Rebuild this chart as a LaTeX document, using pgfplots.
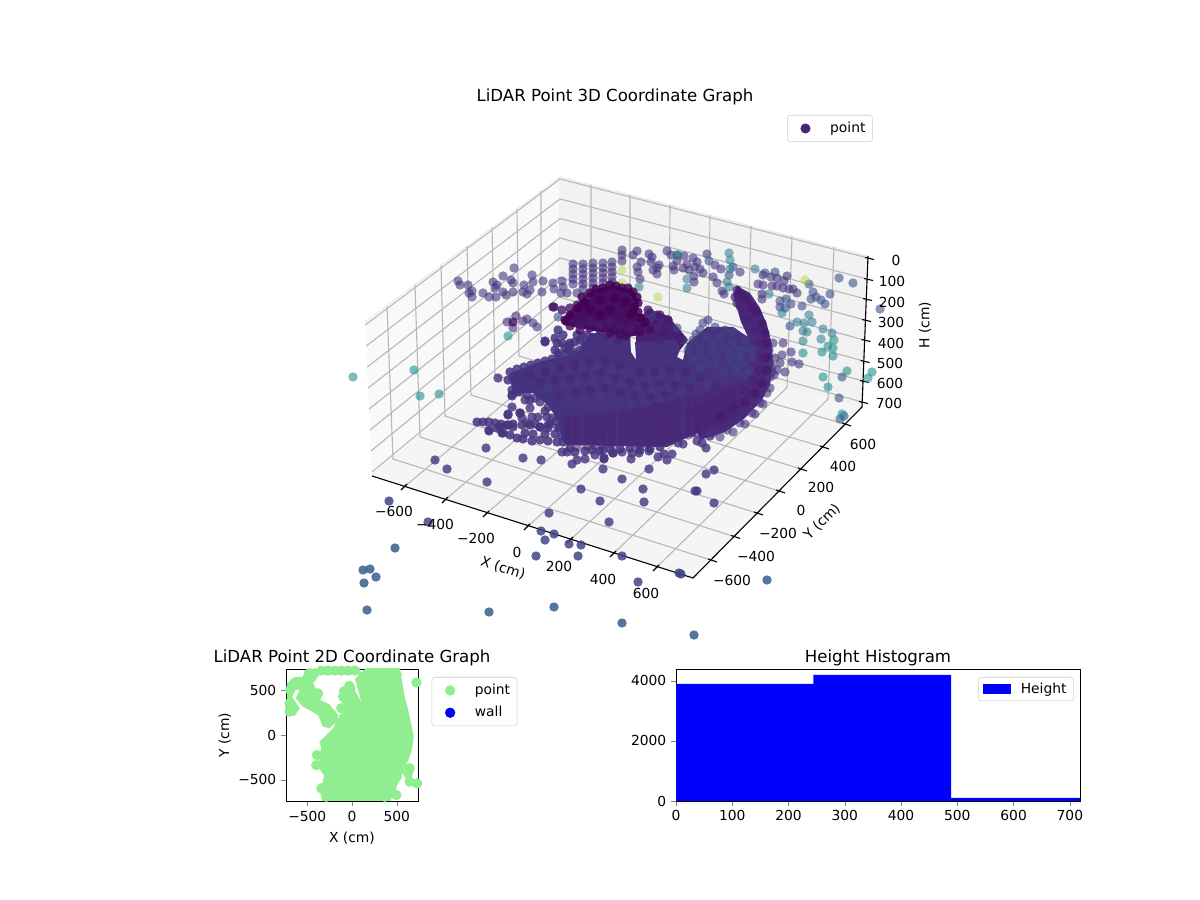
\documentclass[border=0pt]{standalone}
\usepackage{pgfplots}
\pgfplotsset{compat=1.18}
\usepackage{fontspec}
\setmainfont{DejaVu Sans}
\definecolor{v00}{HTML}{440154}
\definecolor{v03}{HTML}{460B5E}
\definecolor{v07}{HTML}{471A6C}
\definecolor{v10}{HTML}{482475}
\definecolor{v15}{HTML}{463480}
\definecolor{v20}{HTML}{414487}
\definecolor{v25}{HTML}{3B528B}
\definecolor{v30}{HTML}{355F8D}
\definecolor{v40}{HTML}{2A788E}
\definecolor{v50}{HTML}{21918C}
\definecolor{v85}{HTML}{A5DB36}
\definecolor{massc}{HTML}{48327D}
\definecolor{domec}{HTML}{470F60}
\definecolor{cresc}{HTML}{4A2A79}
\definecolor{midc}{HTML}{47206F}
\definecolor{lg}{HTML}{90EE90}
\definecolor{gridc}{gray}{0.72}
\pgfplotsset{lgpt/.style={legend image code/.code={\path (-0.35cm,0cm) (0.55cm,0cm);\draw[##1] plot coordinates {(0cm,0cm)};}}}
\newcommand{\pts}[3]{\addplot[forget plot,color=#1,only marks,mark=*,mark size=3.4,mark options={solid,fill=#1,fill opacity=#2,draw opacity=0}] coordinates {#3};}
\newcommand{\gl}[1]{\addplot[forget plot,gridc,line width=0.8pt,no marks] coordinates {#1};}
\newcommand{\tk}[1]{\addplot[forget plot,black,line width=0.8pt,no marks] coordinates {#1};}
\newcommand{\ptxt}[2]{\node[font=\fontsize{10}{12}\selectfont] at (axis cs:#1) {#2};}
\begin{document}
\begin{tikzpicture}
\path[use as bounding box] (0,0) rectangle (864bp,648bp);
% ---------- 3D panel, in picture coordinates
\begin{axis}[at={(253.44bp,190.8bp)},anchor=south west,scale only axis,width=380.16bp,height=373.68bp,
 xmin=352,xmax=880,ymin=116,ymax=635,y dir=reverse,hide axis,clip=true,
 legend style={at={(axis cs:787,115)},anchor=north west,draw=black!20,rounded corners=2pt,font=\fontsize{10}{12}\selectfont,inner xsep=3pt,inner ysep=3pt,legend cell align=left}]
\addlegendimage{only marks,mark=*,mark size=3.4,color=v10,lgpt}
\addlegendentry{point}
\addplot[forget plot,fill=black!2.5,draw=black!7,line width=.8pt] coordinates {(365,322)(560,177)(559,322)(372,476)};
\addplot[forget plot,fill=black!5,draw=black!8,line width=.8pt] coordinates {(560,177)(868,256)(862,407)(559,322)};
\addplot[forget plot,fill=black!4,draw=black!4] coordinates {(372,476)(559,322)(862,407)(693,578)};
% grid
\gl{(591,185)(591,331)(404,487)}\gl{(630,195)(630,342)(445,500)}\gl{(670,205)(669,354)(486,514)}\gl{(710,215.5)(708,365)(527,527)}\gl{(751,226)(747,376)(570,540)}\gl{(792,236.5)(787,387.5)(613,554)}\gl{(834,247)(828,399)(656,568)}
\gl{(387,306)(393,459)(711,560)}\gl{(415,285)(420,437)(734,536.5)}\gl{(441,265.5)(445,416)(757,513)}\gl{(467,246)(471,395)(779,491)}\gl{(492,227.5)(495,375)(801,469)}\gl{(517,209)(519,356)(823,447)}\gl{(541,191)(541,338)(845,424)}
\gl{(365.2,325)(560,179)(868,258)}\gl{(366.2,346)(560,199)(867,279)}\gl{(367.2,367)(560,218.5)(866,299)}\gl{(368.1,388)(560,238)(865,320)}\gl{(369.1,409)(560,258)(864.5,340)}\gl{(370,430)(559,277.5)(863.5,361)}\gl{(371,451)(559,297)(863,381)}\gl{(372,472)(559,317)(862,402)}
% axis lines and ticks
\tk{(372,476)(693,578)(862,407)(868,256)}
\tk{(401,490)(407,484)}\tk{(442,503)(448,497)}\tk{(483,517)(489,511)}\tk{(524,530)(530,524)}\tk{(567,543)(573,537)}\tk{(610,557)(616,551)}\tk{(653,571)(659,565)}
\tk{(708,559)(717,562)}\tk{(731,535.5)(740,538.5)}\tk{(754,512)(763,515)}\tk{(776,490)(785,493)}\tk{(798,468)(807,471)}\tk{(820,446)(829,449)}\tk{(842,423)(851,426)}
\tk{(865,257.5)(874,259.5)}\tk{(864,278.5)(873,280.5)}\tk{(863,298.5)(872,300.5)}\tk{(862,319.5)(871,321.5)}\tk{(861.5,339.5)(870.5,341.5)}\tk{(860.5,360.5)(869.5,362.5)}\tk{(860,380.5)(869,382.5)}\tk{(859,401.5)(868,403.5)}
% back wall points
\pts{v15}{.6}{(458,281)(460,285)(468,285)(472,291)(472,297)(469,293)(483,293)(489,297)(496,297)(493,282)(497,285)(495,288)(503,276)(514,268)(511,280)(513,283)(503,292)(506,295)(513,292)(524,285)(523,292)(527,294)(532,275)(533,282)(530,290)(543,281)(542,292)(553,283)(554,289)(562,281)(563,287)(561,293)(567,293)(577,293)(587,296)
(573,264)(573,269)(573,274)(573,279)(573,284)(583,264)(583,269)(583,274)(583,279)(583,284)(583,289)(593,263)(593,268)(593,273)(593,278)(593,283)(593,288)(603,263)(603,268)(603,273)(603,278)(603,283)(612,262)(612,267)(612,272)(612,277)(612,282)
(507,322)(516,316)(513,328)(523,321)(527,319)(533,323)(537,327)(622,250)(622,255)(622,261)(633,255)(637,251)(649,254)(652,257)(641,262)(651,262)(659,265)(657,268)(637,267)(638,272)(640,279)(653,270)(657,274)(667,251)(671,255)(673,266)(674,270)(683,268)(677,261)(684,256)(687,264)(693,258)(697,262)(695,267)(689,270)(694,276)(694,282)(700,269)(703,273)(707,254)(715,265)(713,277)(717,283)(722,291)(724,294)(721,269)(740,272)(763,275)(771,277)(777,278)(787,276)(784,281)(758,284)(763,285)(772,286)(777,286)(783,288)(789,289)(793,289)(797,293)(762,294)(762,299)(773,343)(783,343)(782,355)(791,352)(780,363)(792,362)(799,364)(785,372)(772,372)(777,370)}
\pts{v00}{.75}{(513,322)(553,307)}
\pts{v25}{.6}{(558,317)(677,255)(709,261)(729,275)(733,267)(765,273)(775,272)(809,284)(813,292)(811,299)(816,297)(821,300)(825,304)(830,294)(839,278)(853,283)(786,299)(780,301)(791,304)(780,307)(785,308)(802,306)(790,326)(842,377)(839,398)(844,416)(840,419)(880,309)}
\pts{v40}{.55}{(639,287)(678,255)(687,279)(687,288)(729,253)(730,260)(730,269)(727,282)(729,287)(755,269)(769,294)(782,313)(809,315)(797,322)(804,323)(812,322)(803,331)(807,332)(823,329)(832,333)(803,341)(821,339)}
\pts{v50}{.6}{(508,336)(353,377)(414,370)(420,396)(439,394)(834,340)(828,346)(833,348)(822,352)(833,356)(803,353)(847,371)(872,372)(868,378)(823,377)(828,387)(842,414)}
\pts{v85}{.45}{(622,283)(622,270)(658,297)(805,280)}
% scattered floor points
\pts{v15}{.8}{(498,378)(486,448)(523,458)(541,460)(435,460)(447,469)(487,482)(572,464)(577,460)(585,459)(603,469)(604,458)(581,489)(600,501)(549,513)(609,522)(622,479)(649,469)(643,489)(644,502)(631,459)(639,453)(632,453)(649,451)(658,457)(667,460)(664,454)(672,454)(604,459)(613,453)(622,452)(683,444)(678,443)(697,441)(706,448)(702,443)(710,436)(692,433)(695,491)(697,491)(706,474)(714,470)(714,503)(562,452)(567,452)(595,455)(603,450)(613,453)
(512,396)(517,392)(525,400)(530,408)(512,395)(520,392)(527,395)(535,398)(512,407)(548,407)(555,408)(508,414)(520,413)(522,418)(532,417)(538,417)(547,417)(552,418)(560,417)(527,423)(535,424)(540,427)(548,425)(560,427)(489,430)(500,427)(560,400)(540,402)(563,407)}
\pts{v20}{.85}{(541,531)(554,534)(545,540)(569,544)(581,545)(536,556)(578,556)(622,556)(638,582)(681,574)(679,573)(389,501)(428,522)}
\pts{v30}{.85}{(395,548)(363,570)(370,569)(376,577)(364,583)(367,610)(489,612)(554,607)(622,623)(676,636)(694,635)(767,580)}
% lower-left edge and tail of the mass
\pts{v15}{.85}{(477,422)(483,422)(489,422)(495,423)(501,424)(507,425)(513,427)(503,433)(510,435)(517,438)(523,439)(532,441)(540,440)(548,441)(557,442)(563,442)(489,431)(497,428)(502,433)(508,425)(513,424)(522,425)(530,425)(540,427)(548,428)(508,415)(520,413)(525,433)(533,434)(545,434)(555,434)(550,424)(556,421)(545,411)(552,403)(540,395)(530,400)(558,428)(562,436)(558,413)(564,405)(562,395)(553,390)(543,388)(570,448)(575,452)(585,451)(592,450)(600,451)(610,449)(620,449)(630,448)(640,450)(650,449)(660,447)}
% body of the mass
\addplot[forget plot,fill=midc,draw=none] coordinates {(636,318)(650,310)(668,316)(680,330)(688,340)(680,350)(636,345)};
\addplot[forget plot,fill=massc,draw=none] coordinates {(510,373)(540,362)(577,353)(590,333)(630,335)(631,352)(636,360)(635,342)(677,340)(680,350)(677,357)(683,360)(687,343)(707,327)(733,327)(757,343)(762,353)(763,380)(750,410)(723,427)(697,433)(667,447)(567,445)(562,440)(558,420)(548,405)(533,393)(513,393)};
\pts{v15}{.85}{(510,372)(517,369)(524,367)(531,365)(538,363)(545,361)(552,359)(559,356)(566,354)(573,352)(580,350)(513,378)(520,376)(508,380)(515,383)(512,390)(525,375)(535,385)(548,396)(556,404)(563,410)
(545,342)(555,338)(558,330)(563,335)(562,343)(570,343)(555,350)(558,353)(565,348)(577,335)(587,335)(597,337)(603,340)(620,337)(582,337)(573,355)(570,345)(557,343)(545,341)(650,313)(657,315)(662,320)(668,320)(645,320)(650,320)(657,328)(575,342)(585,345)(568,350)(580,340)(590,342)(600,345)(612,345)(622,347)(650,350)(660,345)(670,345)(665,352)(655,345)(672,352)(642,352)}
\pts{v10}{.7}{(640,320)(650,327)(660,325)(668,328)(675,335)(650,335)(660,340)(645,332)(655,330)(665,336)(618,341)(606,336)}
\pts{v20}{.6}{(703,323)(708,320)(715,327)(725,330)(733,332)(707,337)(700,347)(693,340)(683,340)(688,350)(713,343)(723,347)(733,343)(743,350)(717,357)(730,360)(743,363)(753,357)(707,363)(693,360)(723,373)(737,373)(750,370)(740,350)(677,328)(700,330)(696,334)(720,337)(745,340)(752,350)(700,356)(712,350)(728,352)(738,357)(715,365)(700,368)(735,367)(745,375)}
\pts{v07}{.3}{(530,375)(545,372)(560,368)(575,365)(590,362)(605,360)(620,365)(640,372)(655,372)(670,370)(685,372)(700,378)(715,385)(540,382)(555,380)(570,378)(585,375)(600,372)(615,378)(630,382)(645,385)(660,383)(675,385)(690,388)(560,395)(575,392)(590,390)(605,388)(620,392)(635,395)(650,396)(665,394)}
\pts{v20}{.3}{(537,369)(552,366)(567,372)(582,369)(597,366)(612,370)(627,372)(647,378)(662,377)(677,378)(692,380)(707,384)(548,388)(563,386)(578,384)(593,382)(608,381)(622,385)(637,388)(652,390)(667,388)(682,392)(570,402)(585,400)(600,398)(615,400)(630,403)(645,402)(660,400)}
% dome
\addplot[forget plot,fill=domec,draw=none] coordinates {(562,320)(577,303)(593,290)(613,285)(633,290)(639,303)(637,313)(667,323)(660,330)(640,335)(627,337)(590,330)(563,325)};
\pts{v03}{.8}{(600,330)(610,333)(620,335)(626,336)(590,328)(580,330)(640,332)(650,330)(570,326)}
\pts{v07}{.8}{(580,325)(590,322)(600,325)(610,322)(620,325)(630,328)(648,310)(660,315)(668,320)(663,333)(680,338)(554,307)(562,310)(570,308)(577,305)}
\pts{v00}{.85}{(565,320)(570,315)(578,308)(585,303)(582,297)(590,293)(596,289)(603,288)(610,285)(616,286)(622,288)(628,288)(633,292)(637,297)(638,303)(634,308)(638,312)(630,315)(640,318)(645,322)(600,315)(610,310)(590,310)(600,300)(615,298)(625,302)}
% crescent
\addplot[forget plot,fill=cresc,draw=none] coordinates {(737,286)(750,293)(760,308)(767,325)(772,345)(773,365)(770,385)(762,400)(745,418)(725,432)(700,440)(690,410)(715,398)(735,385)(748,370)(755,350)(748,337)(741,322)(736,305)(733,295)};
% front columns
\pts{v10}{.55}{(568,420)(568,427)(568,434)(568,441)(577,419)(577,426)(577,433)(577,440)(577,447)(587,418)(587,425)(587,432)(587,439)(587,446)(595,418)(595,425)(595,432)(595,439)(595,446)(603,417)(603,424)(603,431)(603,438)(603,445)(612,416)(612,423)(612,430)(612,437)(612,444)(622,414)(622,421)(622,428)(622,435)(622,442)(630,413)(630,420)(630,427)(630,434)(630,441)(638,411)(638,418)(638,425)(638,432)(638,439)(638,446)(647,409)(647,416)(647,423)(647,430)(647,437)(647,444)(655,407)(655,414)(655,421)(655,428)(655,435)(655,442)(662,406)(662,413)(662,420)(662,427)(662,434)(662,441)(670,404)(670,411)(670,418)(670,425)(670,432)(670,439)(678,402)(678,409)(678,416)(678,423)(678,430)(678,437)(688,400)(688,407)(688,414)(688,421)(688,428)(688,435)(697,398)(697,405)(697,412)(697,419)(697,426)(697,433)(706,396)(706,403)(706,410)(706,417)(706,424)(714,393)(714,400)(714,407)(714,414)(714,421)(723,390)(723,397)(723,404)(723,411)(723,418)(723,425)(732,388)(732,395)(732,402)(732,409)(732,416)}
% crescent points
\pts{v15}{.6}{(770,377)(772,367)(767,393)(760,403)(752,413)(740,423)(727,430)(713,433)(770,363)(769,350)(775,358)(774,375)(770,388)(763,404)(755,414)(745,424)(733,432)(720,437)}
\pts{v10}{.7}{(735,297)(737,303)(743,310)(750,320)(755,330)(758,343)(760,357)(758,370)(753,380)(743,390)(730,398)(717,405)(703,410)(690,413)(763,330)(765,345)(765,358)(763,373)(758,385)(750,395)(738,404)(725,412)(745,318)(740,306)}
\pts{v07}{.75}{(737,290)(742,295)(747,300)(752,307)(757,313)(762,323)(765,333)(767,343)(767,357)(767,370)(762,383)(755,393)(745,402)(733,408)(720,417)}
\end{axis}
% ---------- 2D panel
\begin{axis}[at={(205.92bp,71.28bp)},anchor=south west,scale only axis,width=95.04bp,height=95.04bp,
 xmin=-738,xmax=738,ymin=-738,ymax=738,xtick={-500,0,500},ytick={-500,0,500},
 xticklabels={−500,0,500},yticklabels={−500,0,500},tick align=outside,xtick pos=bottom,ytick pos=left,major tick length=3.5pt,
 title={LiDAR Point 2D Coordinate Graph},title style={font=\fontsize{12}{14}\selectfont,yshift=-7.6pt},
 xlabel={X (cm)},ylabel={Y (cm)},xlabel style={yshift=-1.3pt},ylabel style={yshift=-1.5pt},
 legend style={at={(axis cs:891,649)},anchor=north west,draw=black!20,rounded corners=2pt,font=\fontsize{10}{12}\selectfont,legend cell align=left,row sep=3pt,inner ysep=3pt}]
\addplot[forget plot,fill=lg,draw=none] coordinates {(179,760)(533,760)(563,578)(589,429)(638,242)(690,-19)(671,-168)(615,-317)(533,-503)(477,-615)(421,-765)(-325,-765)(-362,-615)(-306,-466)(-380,-354)(-343,-131)(-343,-56)(-213,75)(-138,224)(-71,272)(-93,429)(-63,541)(4,548)(108,362)(34,623)(86,690)};
\addplot[forget plot,fill=lg,draw=none] coordinates {(-727,213)(-727,578)(-642,645)(-548,653)(-530,727)(-392,727)(-399,615)(-436,586)(-399,504)(-332,466)(-354,392)(-250,336)(-157,224)(-175,149)(-250,75)(-325,93)(-380,224)(-548,317)(-630,410)(-586,504)(-642,504)(-668,429)(-586,298)(-642,213)};
\addplot[forget plot,fill=lg,draw=none] coordinates {(-369,760)(90,760)(97,679)(-369,679)};
\addplot[only marks,mark=*,mark size=3.5,color=lg,lgpt] coordinates {(-343,720)(-269,720)(-194,720)(-119,720)(-45,720)(30,720)(-698,261)(-690,504)(-642,586)(-474,690)(-418,690)(-380,466)(-287,298)(-231,235)(-269,149)(-213,186)(-325,317)(-698,354)(720,586)(645,-373)(627,-429)(645,-522)(727,-541)(496,-671)(500,671)(470,597)(510,485)(540,354)(590,186)(620,-19)(600,-168)(550,-317)(500,-466)(440,-597)(366,-690)(-325,-597)(-269,-503)(-392,-224)(-399,-336)(-306,-93)(-231,-19)(-45,485)(-19,522)(-63,392)(-343,-597)(-287,-690)(-100,430)(-90,490)(-30,550)(-120,300)};
\addlegendentry{point}
\addplot[only marks,mark=*,mark size=3.5,color=blue,lgpt] coordinates {(5000,5000)};
\addlegendentry{wall}
\end{axis}
% ---------- histogram
\begin{axis}[at={(486.72bp,71.28bp)},anchor=south west,scale only axis,width=290.88bp,height=95.04bp,
 xmin=0,xmax=718,ymin=0,ymax=4388,xtick={0,100,200,300,400,500,600,700},ytick={0,2000,4000},
 /pgf/number format/assume math mode=true,/pgf/number format/1000 sep={},
 tick align=outside,xtick pos=bottom,ytick pos=left,major tick length=3.5pt,
 title={Height Histogram},title style={font=\fontsize{12}{14}\selectfont,yshift=-7.6pt},
 legend style={at={(axis cs:537,4122)},anchor=north west,draw=black!20,rounded corners=2pt,font=\fontsize{10}{12}\selectfont,legend cell align=left}]
\addplot[ybar interval,fill=blue,draw=none,legend image code/.code={\path (0cm,0cm) (0.9cm,0cm);\fill[blue,sharp corners] (0cm,-0.127cm) rectangle (0.71cm,0.127cm);}] coordinates {(0,3890)(244,4190)(489,100)(718,100)};
\addlegendentry{Height}
\end{axis}
% ---------- text of the 3D panel
\begin{axis}[at={(0,0)},anchor=south west,scale only axis,width=864bp,height=648bp,xmin=0,xmax=1200,ymin=0,ymax=900,y dir=reverse,hide axis,clip=false]
\node[font=\fontsize{12}{14}\selectfont] at (axis cs:615,96.5) {LiDAR Point 3D Coordinate Graph};
\ptxt{394,511}{−600}\ptxt{435,524}{−400}\ptxt{476,538}{−200}\ptxt{517,552}{0}\ptxt{559,566}{200}\ptxt{603,579}{400}\ptxt{646,593}{600}
\ptxt{732,580}{−600}\ptxt{756,556}{−400}\ptxt{778,533}{−200}\ptxt{801,510}{0}\ptxt{821,487}{200}\ptxt{843,466}{400}\ptxt{863,444}{600}
\ptxt{896,260}{0}\ptxt{892,281}{100}\ptxt{892,302}{200}\ptxt{891,322}{300}\ptxt{891,343}{400}\ptxt{890,363}{500}\ptxt{890,383}{600}\ptxt{889,403}{700}
\node[font=\fontsize{10}{12}\selectfont,rotate=-18] at (axis cs:503,568) {X (cm)};
\node[font=\fontsize{10}{12}\selectfont,rotate=45] at (axis cs:822,522) {Y (cm)};
\node[font=\fontsize{10}{12}\selectfont,rotate=90] at (axis cs:925,325) {H (cm)};
\end{axis}
\end{tikzpicture}
\end{document}
